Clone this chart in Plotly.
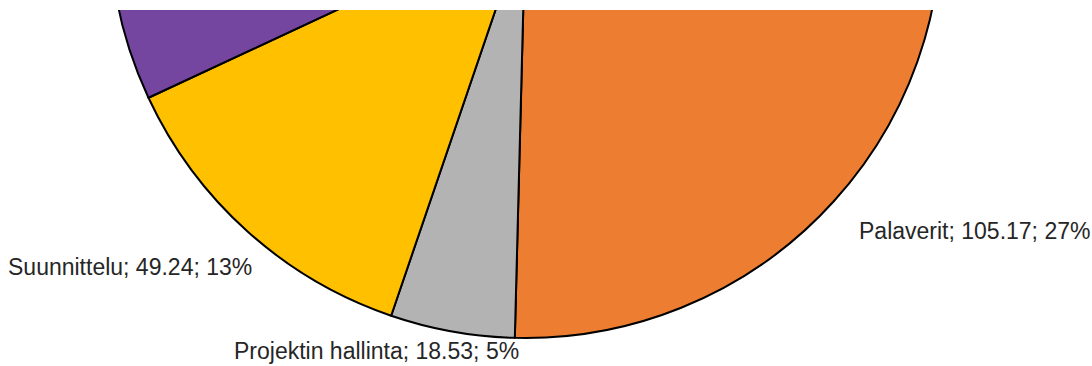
import plotly.graph_objects as go

# Hours per task category (slices run clockwise from 12 o'clock)
categories = ["Toteutus", "Palaverit", "Projektin hallinta", "Suunnittelu", "Muut"]
hours = [88.40, 105.17, 18.53, 49.24, 122.66]
colors = ["#4472C4", "#ED7D31", "#B3B3B3", "#FFC000", "#7446A0"]

# Page geometry: the figure is taller than the window and shifted up,
# so only the lower part of the pie shows.
W, VIEW_H = 1092, 366
SHIFT = 520                 # px the plot div is moved up
H = VIEW_H + SHIFT
TOP_BAND = 10               # blank strip at the top of the window
CX, CY, R = 525.5, -78.0, 416.0   # pie centre / radius in window pixels


def px_x(x):
    return x / W


def px_y(y):
    # window pixel row -> paper coordinate of the tall figure
    return 1 - (y + SHIFT) / H


# Label anchors in window pixels: (x, y, xanchor)
label_pos = {
    "Palaverit": (857, 231, "left"),
    "Suunnittelu": (254, 267, "right"),
    "Projektin hallinta": (232, 351, "left"),
}

total = sum(hours)

fig = go.Figure(
    go.Pie(
        labels=categories,
        values=hours,
        sort=False,
        direction="clockwise",
        rotation=0,
        marker=dict(colors=colors, line=dict(color="black", width=2)),
        textinfo="none",
        hoverinfo="label+value+percent",
        domain=dict(
            x=[px_x(CX - R), px_x(CX + R)],
            y=[px_y(CY + R), px_y(CY - R)],
        ),
        showlegend=False,
    )
)

annotations = []
for name, val in zip(categories, hours):
    if name not in label_pos:
        continue
    x, y, anchor = label_pos[name]
    annotations.append(
        dict(
            text=f"{name}; {val:.2f}; {val / total:.0%}",
            x=px_x(x), y=px_y(y), xref="paper", yref="paper",
            xanchor=anchor, yanchor="middle", showarrow=False,
            font=dict(family="Liberation Sans, Arial, sans-serif", size=23, color="#262626"),
        )
    )

fig.update_layout(
    width=W,
    height=H,
    margin=dict(l=0, r=0, t=0, b=0),
    paper_bgcolor="white",
    plot_bgcolor="white",
    annotations=annotations,
    shapes=[
        dict(
            type="rect", xref="paper", yref="paper",
            x0=0, x1=1, y0=px_y(TOP_BAND), y1=1,
            fillcolor="white", line=dict(width=0), layer="above",
        )
    ],
)

shift_js = (
    "document.body.style.margin='0';"
    "document.body.style.overflow='hidden';"
    "var gd=document.getElementById('{plot_id}');"
    f"gd.style.marginTop='-{SHIFT}px';"
)

fig.write_html("out.html", post_script=shift_js)
